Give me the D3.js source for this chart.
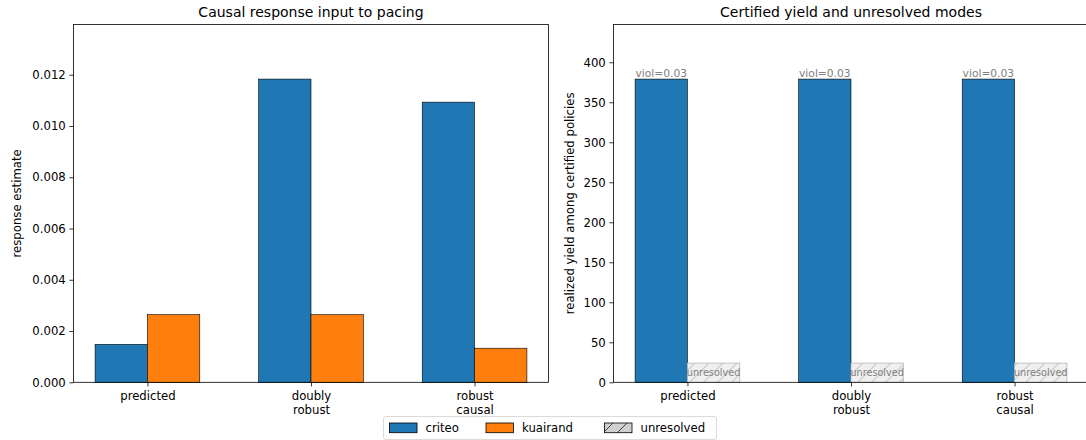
<!DOCTYPE html>
<html>
<head>
<meta charset="utf-8">
<script src="https://cdn.jsdelivr.net/npm/d3@7"></script>
<style>
  html, body { margin: 0; padding: 0; background: #fff; }
  svg { display: block; font-family: "DejaVu Sans", sans-serif; }
</style>
</head>
<body>
<svg id="fig" width="1086" height="440"></svg>
<script>
// Method categories shared by both panels
const categories = ["predicted", "doubly\nrobust", "robust\ncausal"];

// Left panel: causal response estimate per dataset
const criteoResponse = [0.00148, 0.01183, 0.01093];
const kuairandResponse = [0.00264, 0.00264, 0.00133];
const responseTicks = [0.000, 0.002, 0.004, 0.006, 0.008, 0.010, 0.012];

// Right panel: realized yield among certified policies
const criteoYield = [379, 379, 379];
const unresolvedMarker = [24, 24, 24];
const violationRate = [0.03, 0.03, 0.03];
const yieldTicks = [0, 50, 100, 150, 200, 250, 300, 350, 400];

const legendLabels = ["criteo", "kuairand", "unresolved"];

const colors = { criteo: "#1f77b4", kuairand: "#ff7f0e" };
const FONT = "DejaVu Sans";
const barW = 0.32;
const headroom = 1.18;

const svg = d3.select("#fig");

// Hatch pattern for the unresolved placeholder bars
const defs = svg.append("defs");
function hatch(id, bg, line) {
  const p = defs.append("pattern")
    .attr("id", id).attr("patternUnits", "userSpaceOnUse")
    .attr("width", 14).attr("height", 14);
  p.append("rect").attr("width", 14).attr("height", 14).attr("fill", bg);
  p.append("path")
    .attr("d", "M0,14 L14,0 M-3.5,3.5 L3.5,-3.5 M10.5,17.5 L17.5,10.5")
    .attr("stroke", line).attr("stroke-width", 0.9).attr("fill", "none");
}
hatch("hatchBar", "#f0f0f0", "#a8a8a8");
hatch("hatchLegend", "#d0d0d0", "#333333");

const axW = 475, axTop = 24.5, axBottom = 382.3;
const axH = axBottom - axTop;
const margin = 0.05 * (categories.length - 1 + 2 * barW);
const xDomain = [-barW - margin, categories.length - 1 + barW + margin];

function panel(left, opts) {
  const g = svg.append("g").attr("transform", `translate(${left},${axTop})`);
  const x = d3.scaleLinear().domain(xDomain).range([0, axW]);
  const y = d3.scaleLinear().domain([0, opts.ymax]).range([axH, 0]);

  opts.draw(g, x, y);

  // y axis
  const ya = g.append("g").call(
    d3.axisLeft(y).tickValues(opts.yTicks).tickFormat(opts.yFormat)
      .tickSize(4.1).tickPadding(3.6));
  ya.attr("font-family", FONT).attr("font-size", 11.7);
  ya.select(".domain").remove();
  ya.selectAll(".tick line").attr("stroke", "#000").attr("stroke-width", 0.8);
  ya.selectAll(".tick text").attr("fill", "#000");

  // x axis with multi-line category labels
  const xa = g.append("g").attr("transform", `translate(0,${axH})`).call(
    d3.axisBottom(x).tickValues(d3.range(categories.length)).tickFormat("")
      .tickSize(4.1));
  xa.attr("font-family", FONT).attr("font-size", 11.7);
  xa.select(".domain").remove();
  xa.selectAll(".tick line").attr("stroke", "#000").attr("stroke-width", 0.8);
  xa.selectAll(".tick").each(function(d) {
    const t = d3.select(this).append("text")
      .attr("text-anchor", "middle").attr("fill", "#000");
    categories[d].split("\n").forEach((line, k) => {
      t.append("tspan").attr("x", 0).attr("y", 18.2 + k * 14).text(line);
    });
  });

  // frame
  g.append("rect").attr("width", axW).attr("height", axH)
    .attr("fill", "none").attr("stroke", "#000").attr("stroke-width", 0.8);

  // title and y label
  g.append("text").attr("x", axW / 2).attr("y", 16.5 - axTop)
    .attr("text-anchor", "middle").attr("font-size", 14).attr("fill", "#000")
    .text(opts.title);
  g.append("text")
    .attr("transform", `translate(${opts.ylabelX - left},${axH / 2}) rotate(-90)`)
    .attr("text-anchor", "middle").attr("font-size", 11.7).attr("fill", "#000")
    .text(opts.ylabel);
}

// Left panel: grouped response estimates
panel(73.5, {
  title: "Causal response input to pacing",
  ylabel: "response estimate",
  ylabelX: 20.5,
  ymax: d3.max(criteoResponse.concat(kuairandResponse)) * headroom,
  yTicks: responseTicks,
  yFormat: d3.format(".3f"),
  draw(g, x, y) {
    const series = [
      { vals: criteoResponse, color: colors.criteo, off: -barW },
      { vals: kuairandResponse, color: colors.kuairand, off: 0 }
    ];
    series.forEach(s => {
      g.append("g").selectAll("rect").data(s.vals).join("rect")
        .attr("x", (d, i) => x(i + s.off))
        .attr("width", x(barW) - x(0))
        .attr("y", d => y(d))
        .attr("height", d => y(0) - y(d))
        .attr("fill", s.color).attr("stroke", "#000").attr("stroke-width", 0.6);
    });
  }
});

// Right panel: certified yield with unresolved placeholders
panel(613.5, {
  title: "Certified yield and unresolved modes",
  ylabel: "realized yield among certified policies",
  ylabelX: 573.5,
  ymax: d3.max(criteoYield) * headroom,
  yTicks: yieldTicks,
  yFormat: d3.format("d"),
  draw(g, x, y) {
    const bw = x(barW) - x(0);
    g.append("g").selectAll("rect").data(criteoYield).join("rect")
      .attr("x", (d, i) => x(i - barW)).attr("width", bw)
      .attr("y", d => y(d)).attr("height", d => y(0) - y(d))
      .attr("fill", colors.criteo).attr("stroke", "#000").attr("stroke-width", 0.6);
    g.append("g").selectAll("text").data(criteoYield).join("text")
      .attr("x", (d, i) => x(i - barW / 2)).attr("y", d => y(d) - 2)
      .attr("text-anchor", "middle").attr("font-size", 10.7).attr("fill", "#808080")
      .text((d, i) => "viol=" + violationRate[i].toFixed(2));
    g.append("g").selectAll("rect").data(unresolvedMarker).join("rect")
      .attr("x", (d, i) => x(i)).attr("width", bw)
      .attr("y", d => y(d)).attr("height", d => y(0) - y(d))
      .attr("fill", "url(#hatchBar)").attr("stroke", "#b8b8b8").attr("stroke-width", 0.8);
    g.append("g").selectAll("text").data(unresolvedMarker).join("text")
      .attr("x", (d, i) => x(i + barW / 2)).attr("y", d => y(d / 2))
      .attr("dy", "0.35em")
      .attr("text-anchor", "middle").attr("font-size", 9.7).attr("fill", "#808080")
      .text("unresolved");
  }
});

// Shared legend below the panels
const leg = svg.append("g");
leg.append("rect").attr("x", 383.5).attr("y", 416.5).attr("width", 333).attr("height", 23)
  .attr("rx", 2.5).attr("fill", "#fff").attr("fill-opacity", 0.8)
  .attr("stroke", "#d0d0d0").attr("stroke-width", 0.8);
const legItems = [
  { label: legendLabels[0], fill: colors.criteo, stroke: "#000", x: 389.5 },
  { label: legendLabels[1], fill: colors.kuairand, stroke: "#000", x: 486 },
  { label: legendLabels[2], fill: "url(#hatchLegend)", stroke: "#000", x: 604.5 }
];
legItems.forEach(it => {
  leg.append("rect").attr("x", it.x).attr("y", 423).attr("width", 27.5).attr("height", 9.7)
    .attr("fill", it.fill).attr("stroke", it.stroke).attr("stroke-width", 0.8);
  leg.append("text").attr("x", it.x + 36).attr("y", 432)
    .attr("font-size", 11.7).attr("fill", "#000").text(it.label);
});
</script>
</body>
</html>
